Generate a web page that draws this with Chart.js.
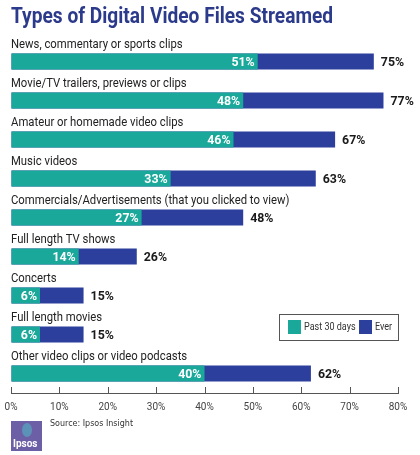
<!DOCTYPE html>
<html>
<head>
    <meta charset='UTF-8'>
    <title>Types of Digital Video Files Streamed</title>
    <style>
        body { margin: 0; background: #fff; }
        #chart { display: block; }
    </style>
</head>
<body>
    <script src="https://cdn.jsdelivr.net/npm/chart.js@4.4.1/dist/chart.umd.min.js"></script>
    <canvas id="chart" width="420" height="455"></canvas>

    <script>
        // data
        let categories = [
            "News, commentary or sports clips",
            "Movie/TV trailers, previews or clips",
            "Amateur or homemade video clips",
            "Music videos",
            "Commercials/Advertisements (that you clicked to view)",
            "Full length TV shows",
            "Concerts",
            "Full length movies",
            "Other video clips or video podcasts"
        ];
        let past30 = [51, 48, 46, 33, 27, 14, 6, 6, 40];
        let ever = [75, 77, 67, 63, 48, 26, 15, 15, 62];
        let xTicks = [0, 10, 20, 30, 40, 50, 60, 70, 80];

        const TEAL = "#1aa89a";
        const BLUE = "#2d3f9c";

        // no condensed face installed, so squeeze Roboto a bit
        function narrowText(ctx, text, x, y, sx) {
            ctx.save();
            ctx.translate(x, y);
            ctx.scale(sx, 1);
            ctx.fillText(text, 0, 0);
            ctx.restore();
        }

        // title, category labels, value labels, legend, source
        const decorations = {
            id: "decorations",
            afterDatasetsDraw(chart) {
                const ctx = chart.ctx;
                const area = chart.chartArea;
                const x = chart.scales.x;
                const y = chart.scales.y;
                ctx.save();
                ctx.textBaseline = "middle";
                ctx.textAlign = "left";

                ctx.fillStyle = "#2b3a8a";
                ctx.font = "bold 22px Roboto, sans-serif";
                narrowText(ctx, "Types of Digital Video Files Streamed", area.left, 17, 0.87);

                ctx.font = "13px Roboto, sans-serif";
                ctx.fillStyle = "#222";
                categories.forEach(function(name, i) {
                    narrowText(ctx, name, area.left, y.getPixelForValue(i) - 17, 0.87);
                });

                let teal = chart.getDatasetMeta(0).data;
                let blue = chart.getDatasetMeta(1).data;
                ctx.font = "bold 13px Roboto, sans-serif";
                for (let i = 0; i < categories.length; i++) {
                    ctx.textAlign = "right";
                    ctx.fillStyle = "#fff";
                    narrowText(ctx, past30[i] + "%", teal[i].x - 3, teal[i].y + 1, 0.95);
                    ctx.textAlign = "left";
                    ctx.fillStyle = "#1a1a1a";
                    narrowText(ctx, ever[i] + "%", blue[i].x + 7, blue[i].y + 1, 0.95);
                }

                // tick marks pointing up from the axis
                ctx.strokeStyle = "#555";
                ctx.lineWidth = 1;
                xTicks.forEach(function(v) {
                    let px = Math.round(x.getPixelForValue(v)) + 0.5;
                    ctx.beginPath();
                    ctx.moveTo(px, area.bottom - 6);
                    ctx.lineTo(px, area.bottom);
                    ctx.stroke();
                });

                // legend box
                let lx = 279, ly = 314, lw = area.right - 279, lh = 26;
                ctx.strokeStyle = "#555";
                ctx.strokeRect(lx + 0.5, ly + 0.5, lw, lh);
                ctx.textAlign = "left";
                ctx.font = "11px Roboto, sans-serif";
                ctx.fillStyle = TEAL;
                ctx.fillRect(lx + 9, ly + 6, 13, 14);
                ctx.fillStyle = "#333";
                narrowText(ctx, chart.data.datasets[0].label, lx + 25, ly + 13.5, 0.82);
                ctx.fillStyle = BLUE;
                ctx.fillRect(lx + 80, ly + 6, 13, 14);
                ctx.fillStyle = "#333";
                narrowText(ctx, chart.data.datasets[1].label, lx + 96, ly + 13.5, 0.82);

                // logo and source
                ctx.fillStyle = "#6d5fa6";
                ctx.fillRect(11, 421, 31, 30);
                ctx.fillStyle = "#5c92b8";
                ctx.beginPath();
                ctx.ellipse(27, 430, 5, 7, 0, 0, Math.PI * 2);
                ctx.fill();
                ctx.fillStyle = "#fff";
                ctx.font = "bold 10px Roboto, sans-serif";
                ctx.fillText("Ipsos", 13, 444);
                ctx.fillStyle = "#333";
                ctx.font = "8px 'DejaVu Sans', sans-serif";
                ctx.fillText("Source: Ipsos Insight", 50, 424);

                ctx.restore();
            }
        };

        let context = document.getElementById("chart").getContext("2d");
        let chart = new Chart(context, {
            type: "bar",
            data: {
                labels: categories,
                datasets: [{
                    label: "Past 30 days",
                    backgroundColor: TEAL,
                    data: past30,
                    grouped: false,
                    barPercentage: 0.41,
                    categoryPercentage: 1
                }, {
                    label: "Ever",
                    backgroundColor: BLUE,
                    data: ever,
                    grouped: false,
                    barPercentage: 0.41,
                    categoryPercentage: 1
                }]
            },
            options: {
                indexAxis: "y",
                responsive: false,
                animation: false,
                layout: {
                    padding: { top: 42, left: 11, right: 22, bottom: 34 }
                },
                plugins: {
                    legend: { display: false },
                    title: { display: false },
                    tooltip: { enabled: false }
                },
                scales: {
                    x: {
                        min: 0,
                        max: 80,
                        afterBuildTicks: function(scale) {
                            scale.ticks = xTicks.map(function(v) { return { value: v }; });
                        },
                        afterFit: function(scale) {
                            scale.paddingLeft = 0;
                            scale.paddingRight = 0;
                        },
                        grid: { drawOnChartArea: false, drawTicks: false },
                        border: { display: true, color: "#555" },
                        ticks: {
                            padding: 8,
                            color: "#444",
                            font: { family: "Roboto", size: 10 },
                            callback: function(v) { return v + "%"; }
                        }
                    },
                    y: { display: false }
                }
            },
            plugins: [decorations]
        });
    </script>
</body>
</html>
